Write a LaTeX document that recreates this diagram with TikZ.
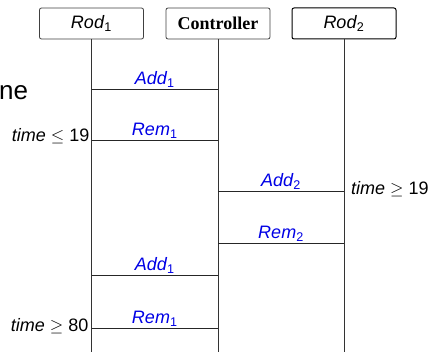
\documentclass[tikz,border=0pt]{standalone}
\usepackage{fontspec}
\setmainfont{Liberation Sans}
\newfontfamily\ctrlfont{Liberation Serif}
\begin{document}
\begin{tikzpicture}[x=1pt,y=-1pt,
  every node/.style={font=\fontsize{18}{21}\selectfont},
  lifebox/.style={draw=black!75,line width=0.8pt,rounded corners=2pt,
    minimum width=104pt,minimum height=31pt,inner sep=0pt,fill=white},
  lifeline/.style={draw=black!80,line width=0.8pt},
  msg/.style={draw=black!85,line width=0.8pt},
  msglabel/.style={above,inner sep=1pt,text=blue!90!black,
    font=\fontsize{18}{21}\selectfont\itshape},
  guard/.style={inner sep=0pt}]
\useasboundingbox (0,0) rectangle (431,352);

% partial title at the left margin
\node[anchor=base west,inner sep=0pt,font=\fontsize{26}{30}\selectfont] (title) at (-1,100) {ne};

% lifeline heads
\node[lifebox] (r1) at (91.5,23.5) {\textit{Rod}\textsubscript{1}};
\node[lifebox] (ct) at (218,23.5) {\ctrlfont\bfseries Controller};
\node[lifebox,draw=black,line width=1pt] (r2) at (344,23.5) {\textit{Rod}\textsubscript{2}};

% lifeline ends
\coordinate (r1e) at (r1.south |- 0,352);
\coordinate (cte) at (ct.south |- 0,352);
\coordinate (r2e) at (r2.south |- 0,352);
\draw[lifeline] (r1.south) -- (r1e);
\draw[lifeline] (ct.south) -- (cte);
\draw[lifeline] (r2.south) -- (r2e);

% message end points on the lifelines
\foreach \n/\y in {m1/89,m2/140,m5/275,m6/328}{
  \coordinate (\n a) at (r1.south |- 0,\y);
  \coordinate (\n b) at (ct.south |- 0,\y);
}
\foreach \n/\y in {m3/191,m4/243}{
  \coordinate (\n a) at (ct.south |- 0,\y);
  \coordinate (\n b) at (r2.south |- 0,\y);
}

% messages
\draw[msg] (m1a) -- (m1b) node[msglabel,midway] {Add\textsubscript{\upshape 1}};
\draw[msg] (m2a) -- (m2b) node[msglabel,midway] {Rem\textsubscript{\upshape 1}};
\draw[msg] (m3a) -- (m3b) node[msglabel,midway] {Add\textsubscript{\upshape 2}};
\draw[msg] (m4a) -- (m4b) node[msglabel,midway] {Rem\textsubscript{\upshape 2}};
\draw[msg] (m5a) -- (m5b) node[msglabel,midway] {Add\textsubscript{\upshape 1}};
\draw[msg] (m6a) -- (m6b) node[msglabel,midway] {Rem\textsubscript{\upshape 1}};

% timing guards
\node[guard,anchor=base east] (g1) at ([xshift=-2pt,yshift=-2pt]m2a) {\textit{time} $\leq$ 19};
\node[guard,anchor=base west] (g2) at ([xshift=7pt,yshift=-4pt]m3b) {\textit{time} $\geq$ 19};
\node[guard,anchor=base east] (g3) at ([xshift=-3pt,yshift=-4pt]m6a) {\textit{time} $\geq$ 80};
\end{tikzpicture}
\end{document}
